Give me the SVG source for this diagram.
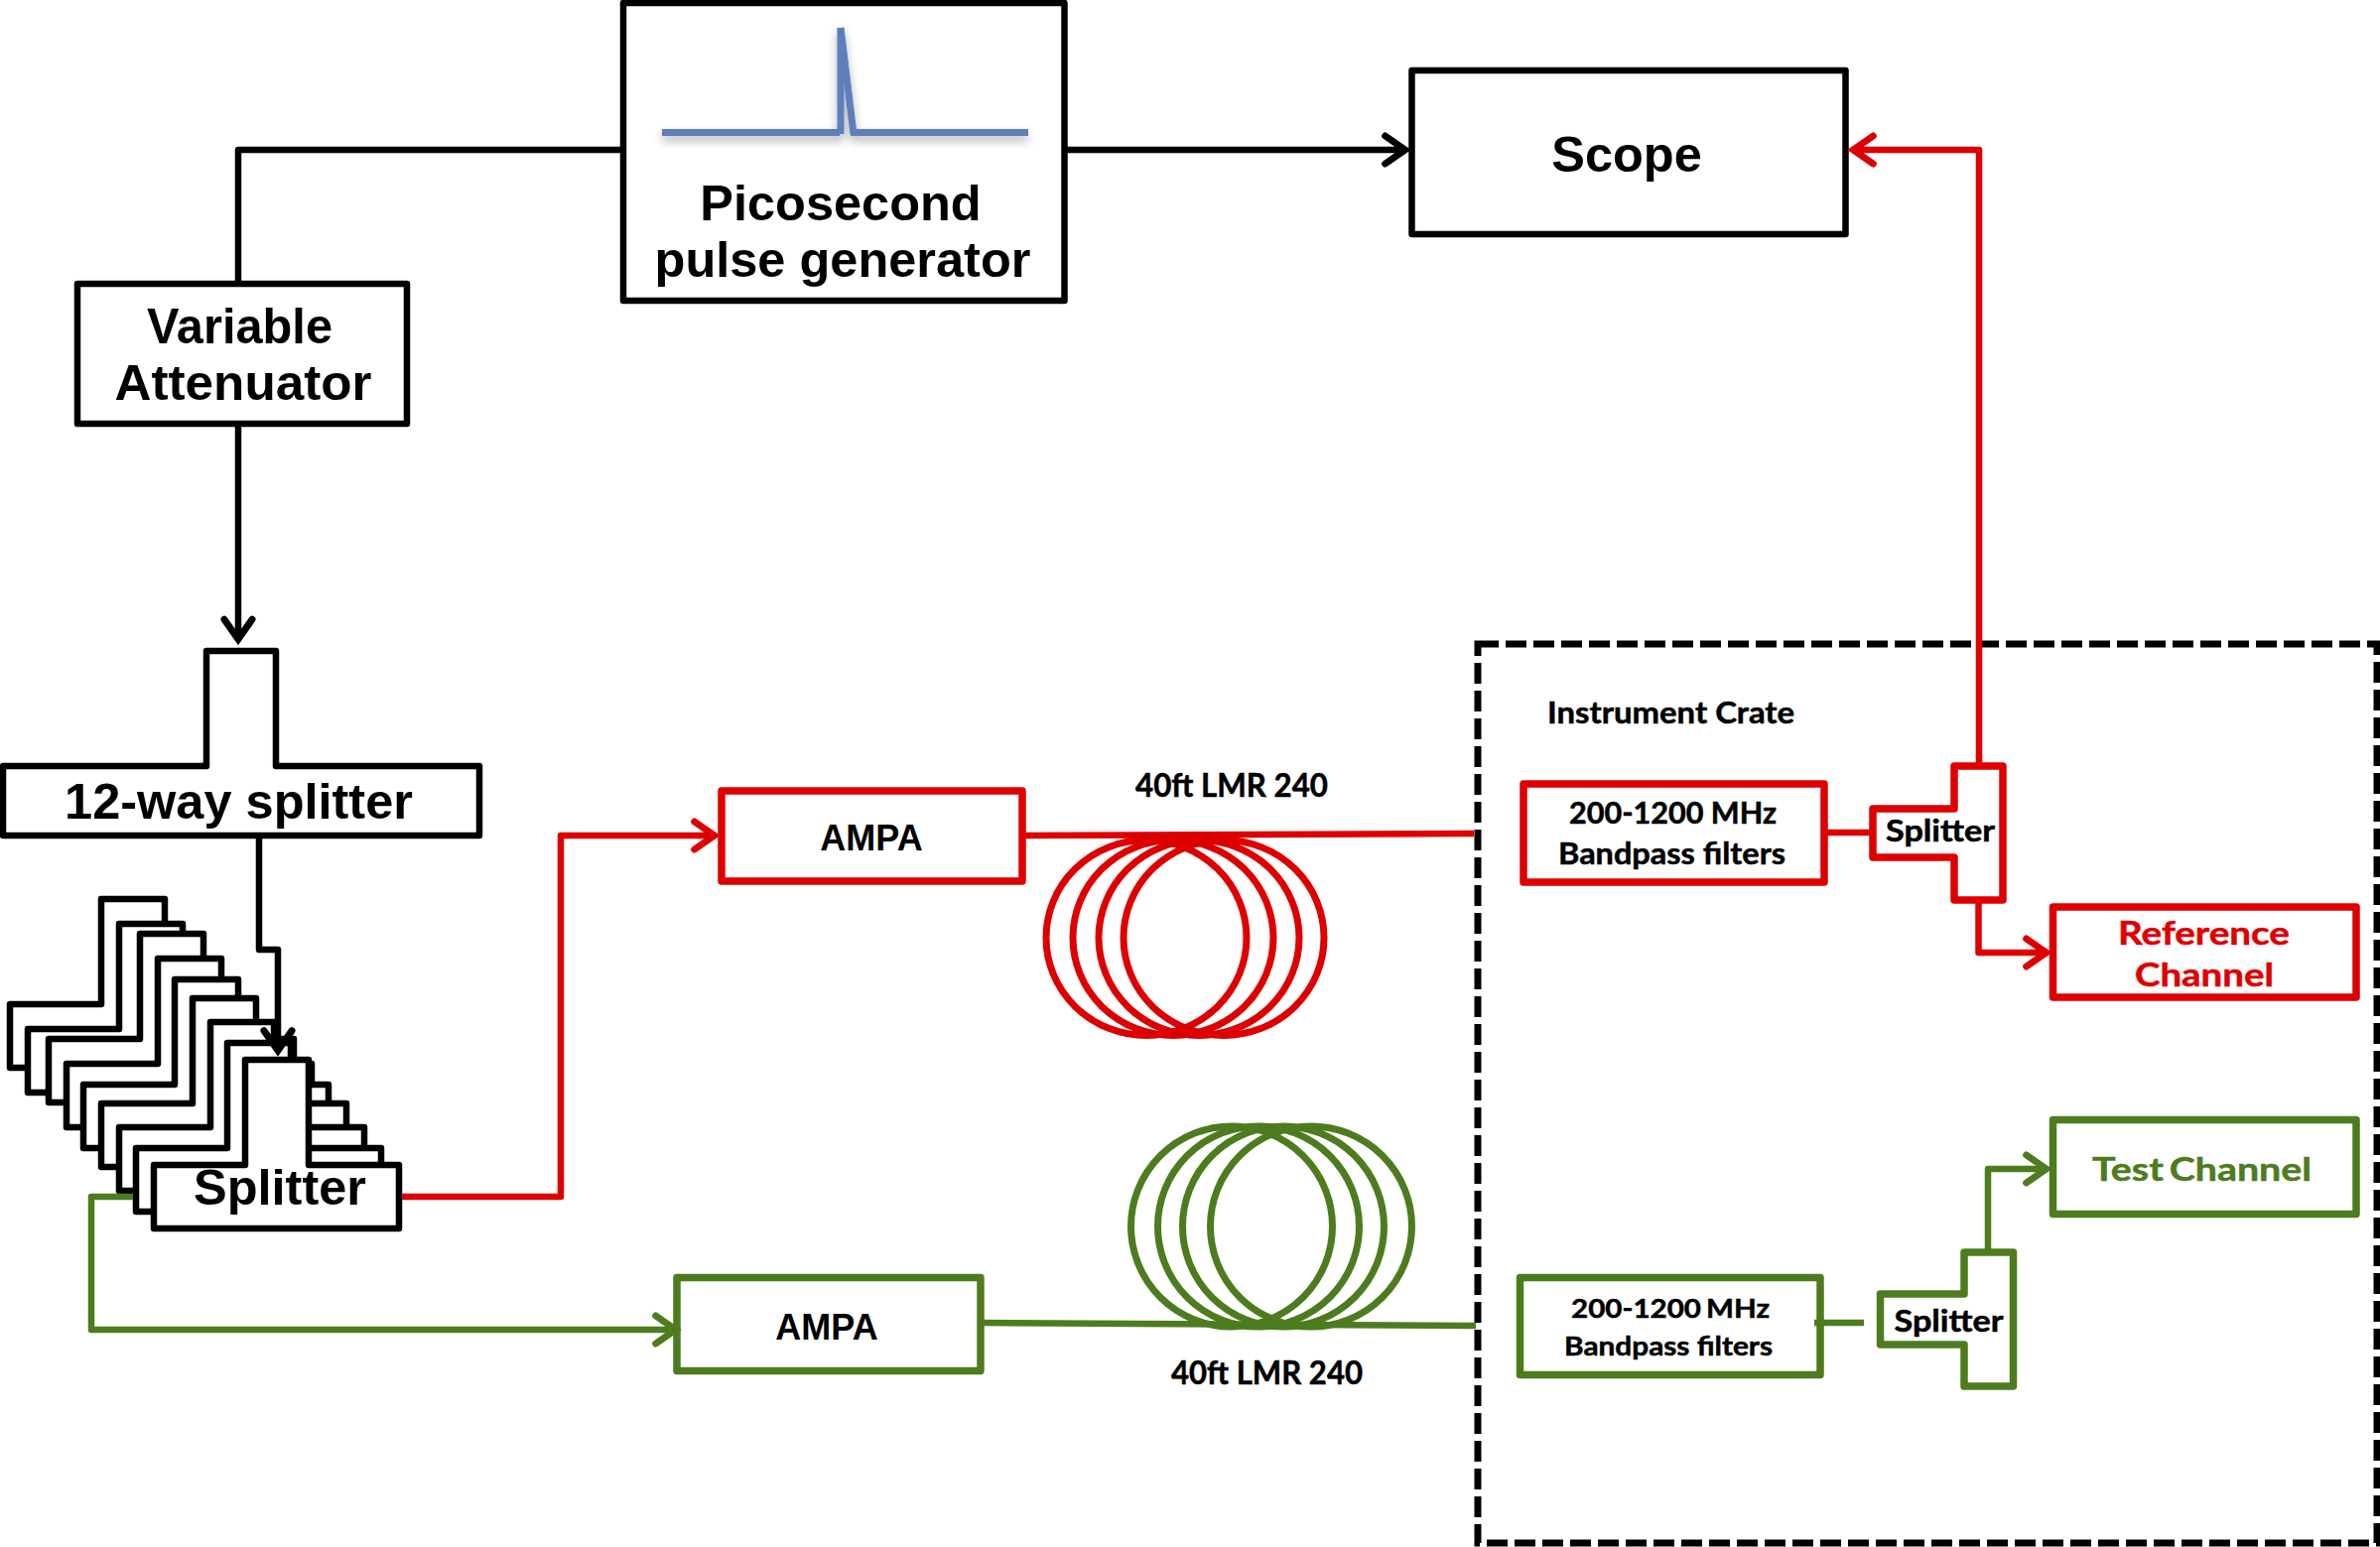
<svg xmlns="http://www.w3.org/2000/svg" xmlns:xlink="http://www.w3.org/1999/xlink" width="2398" height="1559" viewBox="0 0 2398 1559">
<style>
.k{fill:#fff;stroke:#000;stroke-width:6.500;stroke-linejoin:round}
.r{fill:#fff;stroke:#DE0000;stroke-width:7.500;stroke-linejoin:round}
.g{fill:#fff;stroke:#4D7C1F;stroke-width:7.500;stroke-linejoin:round}
.co{fill:none;stroke-width:7}
.cr{stroke:#DE0000}
.cg{stroke:#4D7C1F}
.ln{fill:none;stroke-width:6.500;stroke-linejoin:round}
.lk{stroke:#000}
.a{font-family:"Liberation Sans",Arial,sans-serif;font-weight:700;font-size:50.500px;text-anchor:middle;fill:#000}
.a36{font-size:36px}
.c{font-family:Lato,"Open Sans",sans-serif;font-weight:700;fill:#000;stroke:#000;stroke-width:0.500}
.tr{fill:#DE0000;stroke:#DE0000}
.tg{fill:#4D7C1F;stroke:#4D7C1F}
</style>
<defs>
<marker id="ak" markerUnits="userSpaceOnUse" markerWidth="36" markerHeight="44" refX="26.3" refY="20" orient="auto" overflow="visible"><path d="M5,6 L25,20 L5,34" fill="none" stroke="#000" stroke-width="7" stroke-linecap="round"/></marker>
<marker id="ar" markerUnits="userSpaceOnUse" markerWidth="36" markerHeight="44" refX="26.3" refY="20" orient="auto" overflow="visible"><path d="M5,6 L25,20 L5,34" fill="none" stroke="#DE0000" stroke-width="7" stroke-linecap="round"/></marker>
<marker id="ag" markerUnits="userSpaceOnUse" markerWidth="36" markerHeight="44" refX="26.3" refY="20" orient="auto" overflow="visible"><path d="M5,6 L25,20 L5,34" fill="none" stroke="#4D7C1F" stroke-width="7" stroke-linecap="round"/></marker>
<filter id="sh" x="-10%" y="-30%" width="120%" height="160%"><feDropShadow dx="0" dy="5" stdDeviation="5" flood-color="#000" flood-opacity="0.3"/></filter>
<path id="tee" d="M10,1012 H102 V906 H166 V1012 H257 V1076 H10 Z"/>
</defs>
<rect width="2398" height="1559" fill="#fff"/>

<g id="pulse-generator">
<rect class="k" x="628" y="3" width="444.500" height="300"/>
<g fill="none" stroke="#5F7FBB" stroke-width="7" filter="url(#sh)">
<path d="M667,133.500 H846"/><path d="M847,135 V28"/><path d="M847,28 L860,135"/><path d="M857,133.500 H1036"/>
</g>
<text class="a" x="847" y="222">Picosecond</text>
<text class="a" x="849" y="279">pulse generator</text>
</g>

<g id="scope">
<rect class="k" x="1422.500" y="71" width="437" height="165"/>
<text class="a" x="1639" y="173">Scope</text>
</g>

<g id="variable-attenuator">
<rect class="k" x="78" y="286" width="332" height="141"/>
<text class="a" x="241.500" y="346" textLength="187" lengthAdjust="spacingAndGlyphs">Variable</text>
<text class="a" x="245" y="403" textLength="259" lengthAdjust="spacingAndGlyphs">Attenuator</text>
</g>

<g id="way-splitter">
<path class="k" d="M3,772 H208 V656 H278 V772 H483 V842 H3 Z"/>
<text class="a" x="240.500" y="825">12-way splitter</text>
</g>

<g id="splitter-stack">
<use href="#tee" class="k"/>
<use href="#tee" class="k" transform="translate(18,25)"/>
<use href="#tee" class="k" transform="translate(39,35)"/>
<use href="#tee" class="k" transform="translate(57,60)"/>
<use href="#tee" class="k" transform="translate(74,81)"/>
<use href="#tee" class="k" transform="translate(92,100)"/>
<use href="#tee" class="k" transform="translate(110,124)"/>
<use href="#tee" class="k" transform="translate(127,145)"/>
<use href="#tee" class="k" transform="translate(145,162)"/>
<text class="a" x="282" y="1214">Splitter</text>
</g>

<g id="ampa-red">
<rect class="r" x="727" y="797" width="303" height="91"/>
<text class="a a36" x="878" y="857">AMPA</text>
</g>
<g id="ampa-green">
<rect class="g" x="682" y="1287.500" width="306" height="94"/>
<text class="a a36" x="833" y="1350">AMPA</text>
</g>

<g id="coil-red" class="co cr">
<ellipse cx="1155" cy="945" rx="101" ry="98.500"/>
<ellipse cx="1182" cy="945" rx="101" ry="98.500"/>
<ellipse cx="1208" cy="945" rx="101" ry="98.500"/>
<ellipse cx="1233" cy="945" rx="101" ry="98.500"/>
</g>
<g id="coil-green" class="co cg">
<ellipse cx="1241" cy="1236" rx="101.500" ry="101"/>
<ellipse cx="1268" cy="1236" rx="101.500" ry="101"/>
<ellipse cx="1293" cy="1236" rx="101.500" ry="101"/>
<ellipse cx="1321" cy="1236" rx="101.500" ry="101"/>
</g>
<g id="cable-label-red"><text class="c" font-size="32" x="1144" y="803" textLength="194" lengthAdjust="spacingAndGlyphs">40ft LMR 240</text></g>
<g id="cable-label-green"><text class="c" font-size="32" x="1180" y="1395" textLength="193" lengthAdjust="spacingAndGlyphs">40ft LMR 240</text></g>

<g id="instrument-crate">
<rect x="1489" y="649" width="906" height="906" fill="none" stroke="#000" stroke-width="7" stroke-dasharray="21 7"/>
<text class="c" font-size="30" x="1559" y="729" textLength="249" lengthAdjust="spacingAndGlyphs">Instrument Crate</text>
</g>

<g id="filter-red">
<rect class="r" x="1535" y="790" width="303" height="99"/>
<text class="c" font-size="30" x="1581" y="830" textLength="209" lengthAdjust="spacingAndGlyphs">200-1200 MHz</text>
<text class="c" font-size="30" x="1570" y="871" textLength="229" lengthAdjust="spacingAndGlyphs">Bandpass filters</text>
</g>
<g id="crate-splitter-red">
<path class="r" d="M1887,815 H1969 V772 H2018 V907 H1969 V864 H1887 Z"/>
<text class="c" font-size="30" x="1900" y="848" textLength="110" lengthAdjust="spacingAndGlyphs">Splitter</text>
</g>
<g id="reference-channel">
<rect class="r" x="2068.500" y="914" width="305.500" height="91"/>
<text class="c tr" font-size="33" x="2134" y="952" textLength="173" lengthAdjust="spacingAndGlyphs">Reference</text>
<text class="c tr" font-size="33" x="2151" y="994" textLength="140" lengthAdjust="spacingAndGlyphs">Channel</text>
</g>

<g id="filter-green">
<rect class="g" x="1531.500" y="1287.500" width="302.500" height="98"/>
<text class="c" font-size="27" word-spacing="-2" x="1583" y="1328" textLength="200" lengthAdjust="spacingAndGlyphs">200-1200 MHz</text>
<text class="c" font-size="27" x="1576" y="1366" textLength="210" lengthAdjust="spacingAndGlyphs">Bandpass filters</text>
</g>
<g id="crate-splitter-green">
<path class="g" d="M1894.500,1304 H1979 V1262 H2028.500 V1397 H1979 V1355 H1894.500 Z"/>
<text class="c" font-size="30" x="1908.500" y="1342" textLength="110" lengthAdjust="spacingAndGlyphs">Splitter</text>
</g>
<g id="test-channel">
<rect class="g" x="2068.500" y="1128.500" width="305.500" height="95"/>
<text class="c tg" font-size="33" word-spacing="-3" x="2108" y="1190" textLength="221" lengthAdjust="spacingAndGlyphs">Test Channel</text>
</g>

<g id="connectors">
<path class="ln lk" d="M625,151 H240 V284"/>
<path class="ln lk" marker-end="url(#ak)" d="M1075,151 H1417"/>
<path class="ln lk" marker-end="url(#ak)" d="M240,430 V645.500"/>
<path class="ln lk" marker-end="url(#ak)" d="M261,845 V957 H280 V1060"/>
<path class="ln cr" marker-end="url(#ar)" d="M405,1206 H565 V842 H721"/>
<path class="ln cg" marker-end="url(#ag)" d="M134,1206 H92 V1340 H682"/>
<path class="ln cr" d="M1033,842 L1485,840"/>
<path class="ln cg" d="M989,1333 L1487,1336"/>
<path class="ln cr" d="M1841,839 H1887"/>
<path class="ln cg" d="M1828,1333 H1878"/>
<path class="ln cr" marker-end="url(#ar)" d="M1994,772 V151 H1866"/>
<path class="ln cr" marker-end="url(#ar)" d="M1993.500,907 V960 H2063"/>
<path class="ln cg" marker-end="url(#ag)" d="M2003,1262 V1178 H2063"/>
</g>
</svg>
